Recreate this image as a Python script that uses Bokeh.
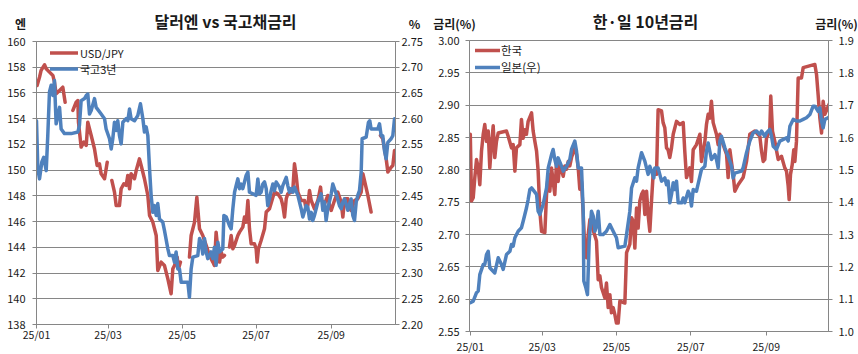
import numpy as np
from bokeh.plotting import figure
from bokeh.models import (Range1d, LinearAxis, FixedTicker, NumeralTickFormatter,
                          Label, Legend, LegendItem)
from bokeh.layouts import row, column
from bokeh.embed import file_html
from bokeh.resources import INLINE

NaN = float("nan")

# ---------------- data (x = days since 2025-01-01) ----------------
usd_jpy = [
    (0.5, 156.58), (2.5, 157.23), (3.8, 157.75), (6.6, 158.19), (8.0, 157.88), (10.7, 157.62),
    (13.5, 157.36), (14.8, 156.84), (16.2, 155.93), (19.0, 156.19), (21.7, 156.45), (23.6, 155.28),
    (26.0, NaN),
    (30.0, 154.64), (32.7, 155.28), (34.1, 155.41), (34.6, 153.73), (36.8, 151.79), (39.0, 152.18),
    (41.0, 151.92), (42.3, 153.73), (45.1, 152.69), (47.8, 151.66), (50.0, 150.36), (51.9, 150.49),
    (53.3, 149.71), (56.1, 149.33), (58.3, 150.62),
    (60.0, NaN),
    (62.1, 149.20), (64.3, 148.29), (65.7, 147.25), (68.4, 147.25), (69.8, 148.55), (72.0, 148.94),
    (73.9, 148.81), (75.3, 149.59), (76.7, 148.55), (78.0, 149.72), (80.8, 149.33), (82.2, 149.97),
    (84.9, 150.88), (86.3, 150.36), (89.0, 149.33), (91.8, 148.03), (93.2, 146.48), (95.9, 145.96),
    (97.3, 145.44), (98.7, 144.92), (100.0, 142.20), (102.8, 142.85), (105.5, 142.59), (108.3, 141.55),
    (111.0, 140.39), (112.4, 142.33), (113.8, 142.59), (116.0, 143.24), (117.1, 142.33), (118.7, 142.85),
    (122.0, NaN),
    (126.1, 143.24), (127.5, 144.92), (130.3, 145.96), (132.2, 147.90), (134.4, 145.44), (137.1, 144.92),
    (139.9, 144.15), (142.6, 143.37), (145.4, 142.85), (146.7, 142.59), (148.1, 145.18), (149.5, 143.80),
    (150.9, 142.85), (152.3, 143.63), (153.6, 143.24), (155.0, 143.37),
    (157.0, NaN),
    (159.1, 144.02), (160.5, 144.92), (161.9, 143.89), (163.3, 144.15), (166.0, 144.92), (167.4, 145.18),
    (170.1, 145.57), (171.5, 146.35), (172.9, 145.96), (174.3, 147.64), (175.6, 145.44), (177.0, 144.28),
    (179.7, 144.28), (181.1, 143.89), (181.9, 142.85), (183.0, 143.89), (185.2, 144.53), (188.0, 145.44),
    (189.4, 146.74), (192.1, 147.00), (194.9, 147.90), (196.2, 148.29), (199.0, 148.16), (201.7, 147.77),
    (203.1, 147.25), (204.5, 146.35), (205.9, 147.77), (207.2, 148.16), (210.0, 148.29), (211.4, 148.55),
    (212.7, 150.49), (214.1, 149.59), (215.5, 148.29), (218.2, 147.64), (221.0, 147.64), (222.3, 146.99),
    (223.7, 147.25), (225.1, 148.42), (226.5, 147.64), (229.2, 146.99), (232.0, 147.64), (234.2, 148.68),
    (235.3, 147.64), (237.5, 147.38), (240.2, 148.03), (241.6, 147.25), (243.0, 146.87), (245.7, 147.64),
    (248.4, 148.29), (251.2, 147.51), (252.6, 146.35), (254.0, 147.77), (256.7, 147.77), (258.1, 146.99),
    (259.4, 146.87), (262.2, 147.64), (264.9, 147.77), (267.7, 148.29), (269.1, 149.72), (270.4, 149.20),
    (273.2, 148.03), (275.9, 146.74),
    (280.0, NaN),
    (283.6, 152.69), (285.5, 152.44), (286.9, 151.66), (288.3, 150.88), (289.7, 149.85), (292.4, 150.23),
    (293.8, 150.36), (295.2, 151.53),
]

ktb3y = [
    (0.0, 2.596), (1.1, 2.503), (2.5, 2.483), (4.4, 2.516), (6.0, 2.525), (8.0, 2.499), (9.3, 2.567),
    (10.7, 2.652), (12.1, 2.665), (13.5, 2.645), (14.8, 2.674), (16.2, 2.590), (17.6, 2.606), (19.0, 2.622),
    (20.3, 2.580), (23.1, 2.571), (28.6, 2.571), (34.1, 2.574), (35.4, 2.587), (36.8, 2.635), (39.6, 2.639),
    (41.0, 2.645), (42.3, 2.648), (43.7, 2.609), (45.1, 2.616), (47.8, 2.639), (49.2, 2.622), (53.3, 2.609),
    (56.1, 2.600), (57.4, 2.580), (60.2, 2.561), (61.6, 2.541), (62.9, 2.561), (64.3, 2.593), (65.7, 2.577),
    (67.0, 2.596), (68.4, 2.567), (69.8, 2.551), (71.2, 2.593), (73.9, 2.600), (75.3, 2.596), (76.7, 2.619),
    (78.0, 2.600), (80.8, 2.596), (83.5, 2.606), (85.7, 2.629), (87.7, 2.600), (89.0, 2.574), (90.4, 2.584),
    (91.8, 2.567), (93.2, 2.503), (94.5, 2.451), (95.9, 2.418), (97.3, 2.431), (98.7, 2.412), (100.0, 2.435),
    (101.4, 2.405), (104.1, 2.399), (105.5, 2.383), (108.3, 2.347), (109.6, 2.334), (112.4, 2.334),
    (113.8, 2.321), (115.1, 2.341), (116.5, 2.308), (117.9, 2.308), (119.3, 2.282), (124.8, 2.282),
    (126.1, 2.253), (127.5, 2.308), (128.9, 2.331), (133.0, 2.334), (134.4, 2.367), (135.8, 2.360),
    (137.1, 2.337), (138.5, 2.367), (139.9, 2.341), (141.2, 2.328), (144.0, 2.341), (145.4, 2.328),
    (146.7, 2.350), (148.1, 2.315), (149.5, 2.360), (150.9, 2.341), (153.6, 2.347), (154.5, 2.412),
    (156.4, 2.409), (159.1, 2.392), (160.5, 2.386), (161.9, 2.425), (163.3, 2.457), (164.6, 2.470),
    (166.0, 2.483), (167.4, 2.464), (168.8, 2.473), (170.1, 2.464), (171.5, 2.477), (172.9, 2.490),
    (174.3, 2.496), (175.6, 2.457), (181.1, 2.451), (182.5, 2.483), (183.9, 2.454), (185.2, 2.457),
    (186.6, 2.473), (188.0, 2.477), (189.4, 2.464), (190.7, 2.431), (192.1, 2.444), (193.5, 2.460),
    (194.9, 2.473), (196.2, 2.460), (197.6, 2.477), (200.4, 2.467), (201.7, 2.457), (203.1, 2.470),
    (205.9, 2.486), (207.2, 2.470), (208.6, 2.457), (210.0, 2.464), (211.4, 2.457), (212.7, 2.467),
    (215.5, 2.451), (218.2, 2.425), (219.6, 2.409), (222.3, 2.431), (223.7, 2.428), (225.1, 2.405),
    (226.5, 2.418), (227.8, 2.402), (229.2, 2.412), (232.0, 2.438), (234.7, 2.454), (236.1, 2.422),
    (237.5, 2.438), (238.8, 2.402), (240.2, 2.425), (243.0, 2.454), (244.3, 2.473), (247.1, 2.454),
    (249.8, 2.431), (251.2, 2.425), (252.6, 2.438), (254.0, 2.444), (256.7, 2.422), (258.1, 2.435),
    (259.4, 2.444), (260.8, 2.412), (262.2, 2.402), (263.6, 2.438), (264.9, 2.451), (266.3, 2.460),
    (267.7, 2.496), (268.5, 2.561), (271.8, 2.564), (273.7, 2.593), (274.8, 2.596), (275.9, 2.580),
    (281.4, 2.580), (282.8, 2.590), (284.2, 2.567), (285.5, 2.567), (286.9, 2.538), (288.3, 2.522),
    (289.7, 2.554), (292.4, 2.561), (293.8, 2.567), (295.2, 2.600),
]

korea10y = [
    (0.0, 2.855), (1.0, 2.752), (2.4, 2.757), (3.7, 2.788), (5.1, 2.816), (6.5, 2.803), (7.8, 2.777),
    (9.2, 2.829), (10.6, 2.855), (11.9, 2.870), (13.3, 2.844), (14.7, 2.860), (16.0, 2.803), (17.4, 2.839),
    (18.8, 2.868), (20.1, 2.819), (21.5, 2.844), (22.9, 2.857), (29.7, 2.860), (31.1, 2.852), (33.8, 2.834),
    (35.2, 2.839), (36.6, 2.798), (37.9, 2.834), (40.7, 2.839), (42.0, 2.878), (43.4, 2.849), (44.8, 2.862),
    (46.1, 2.855), (47.5, 2.875), (50.3, 2.888), (51.6, 2.860), (53.0, 2.844), (54.4, 2.829), (55.7, 2.798),
    (57.1, 2.736), (58.5, 2.705), (61.2, 2.703), (62.6, 2.762), (64.0, 2.793), (65.3, 2.767), (66.7, 2.803),
    (68.0, 2.782), (69.4, 2.762), (70.8, 2.813), (72.1, 2.782), (73.5, 2.808), (76.3, 2.790), (77.6, 2.806),
    (79.0, 2.801), (80.4, 2.813), (81.7, 2.806), (83.1, 2.819), (85.8, 2.834), (87.2, 2.824), (88.6, 2.803),
    (89.9, 2.770), (91.3, 2.782), (92.7, 2.731), (94.0, 2.679), (95.4, 2.664), (96.8, 2.700), (98.2, 2.723),
    (103.6, 2.690), (105.0, 2.630), (106.4, 2.636), (107.7, 2.618), (110.5, 2.602), (111.8, 2.625),
    (113.2, 2.587), (114.6, 2.607), (115.9, 2.579), (117.3, 2.587), (118.7, 2.576), (120.0, 2.563),
    (121.4, 2.563), (122.8, 2.597), (126.9, 2.594), (128.3, 2.672), (131.0, 2.685), (132.4, 2.726),
    (133.7, 2.721), (135.1, 2.679), (136.5, 2.741), (137.8, 2.710), (139.2, 2.752), (140.6, 2.762),
    (142.0, 2.767), (143.3, 2.731), (144.7, 2.767), (146.0, 2.730), (147.4, 2.705), (148.8, 2.752),
    (150.1, 2.793), (152.9, 2.793), (154.2, 2.893), (157.0, 2.891), (158.3, 2.873), (159.7, 2.865),
    (161.1, 2.834), (162.4, 2.831), (163.8, 2.819), (165.2, 2.834), (166.6, 2.855), (169.3, 2.875),
    (172.0, 2.870), (174.8, 2.873), (176.1, 2.829), (177.5, 2.788), (180.2, 2.803), (181.6, 2.782),
    (183.0, 2.831), (185.7, 2.839), (188.5, 2.855), (189.8, 2.813), (192.6, 2.844), (193.9, 2.870),
    (195.3, 2.886), (196.7, 2.880), (198.0, 2.906), (199.4, 2.873), (202.1, 2.855), (203.5, 2.839),
    (204.9, 2.855), (207.6, 2.839), (210.4, 2.824), (211.7, 2.788), (213.1, 2.831), (215.8, 2.793),
    (217.2, 2.767), (219.9, 2.777), (224.0, 2.788), (226.8, 2.813), (229.5, 2.855), (233.6, 2.860),
    (237.7, 2.852), (239.1, 2.829), (240.5, 2.813), (241.8, 2.816), (243.2, 2.849), (245.9, 2.862),
    (246.7, 2.914), (248.1, 2.860), (250.0, 2.844), (252.8, 2.816), (255.5, 2.821), (258.2, 2.803),
    (259.6, 2.798), (261.0, 2.775), (261.8, 2.754), (262.9, 2.793), (264.3, 2.808), (265.6, 2.831),
    (266.5, 2.813), (267.8, 2.844), (269.2, 2.942), (271.9, 2.942), (273.3, 2.958), (282.9, 2.963),
    (284.3, 2.947), (285.6, 2.916), (287.0, 2.880), (288.4, 2.857), (289.7, 2.906), (291.1, 2.886),
    (293.8, 2.898), (295.2, 2.904),
]

japan10y = [
    (0.0, 1.089), (2.4, 1.094), (5.1, 1.120), (6.5, 1.125), (7.8, 1.176), (10.6, 1.207), (11.9, 1.207),
    (13.3, 1.238), (14.7, 1.248), (16.0, 1.197), (20.1, 1.181), (22.9, 1.228), (25.6, 1.207), (27.0, 1.192),
    (29.7, 1.238), (32.5, 1.248), (33.8, 1.269), (35.2, 1.264), (36.6, 1.290), (39.3, 1.310), (42.0, 1.321),
    (43.4, 1.341), (46.1, 1.382), (47.5, 1.408), (48.9, 1.439), (50.3, 1.444), (54.4, 1.424), (55.7, 1.372),
    (57.1, 1.362), (59.8, 1.393), (62.6, 1.444), (64.0, 1.506), (66.7, 1.547), (68.0, 1.563), (69.4, 1.532),
    (70.8, 1.511), (72.1, 1.537), (74.9, 1.511), (76.3, 1.496), (79.0, 1.511), (81.7, 1.532), (83.1, 1.563),
    (85.8, 1.589), (87.2, 1.558), (88.6, 1.506), (91.3, 1.506), (92.7, 1.372), (93.2, 1.156), (94.9, 1.135),
    (96.2, 1.114), (97.6, 1.279), (99.5, 1.372), (100.9, 1.357), (102.3, 1.310), (103.6, 1.326),
    (105.0, 1.372), (106.4, 1.300), (109.1, 1.300), (111.8, 1.310), (114.6, 1.331), (117.3, 1.310),
    (120.0, 1.290), (121.4, 1.259), (126.9, 1.264), (128.3, 1.300), (131.0, 1.372), (132.4, 1.444),
    (135.1, 1.475), (136.5, 1.465), (137.8, 1.506), (140.6, 1.553), (143.3, 1.527), (146.0, 1.486),
    (147.4, 1.511), (148.8, 1.496), (150.7, 1.475), (151.5, 1.506), (154.2, 1.506), (157.0, 1.465),
    (159.7, 1.475), (161.1, 1.454), (162.4, 1.465), (163.8, 1.398), (165.2, 1.424), (166.6, 1.460),
    (167.9, 1.439), (169.3, 1.465), (170.7, 1.398), (173.4, 1.398), (174.8, 1.413), (176.1, 1.398),
    (178.9, 1.434), (180.2, 1.424), (181.6, 1.388), (183.0, 1.439), (185.7, 1.434), (188.5, 1.480),
    (189.8, 1.501), (192.6, 1.511), (193.9, 1.558), (195.3, 1.583), (198.0, 1.532), (200.8, 1.547),
    (202.1, 1.532), (203.5, 1.506), (204.9, 1.589), (206.2, 1.604), (209.0, 1.568), (211.7, 1.542),
    (214.5, 1.511), (215.8, 1.475), (217.2, 1.490), (222.7, 1.496), (224.0, 1.506), (226.8, 1.553),
    (229.5, 1.589), (232.2, 1.614), (235.0, 1.620), (237.7, 1.609), (239.1, 1.620), (241.8, 1.604),
    (243.2, 1.614), (245.9, 1.625), (247.3, 1.604), (248.7, 1.573), (251.4, 1.563), (254.1, 1.589),
    (259.6, 1.599), (261.0, 1.589), (262.4, 1.635), (265.1, 1.656), (267.8, 1.651), (270.6, 1.651),
    (273.3, 1.656), (276.0, 1.661), (278.8, 1.671), (281.5, 1.697), (282.9, 1.697), (285.6, 1.681),
    (287.0, 1.692), (288.4, 1.651), (289.7, 1.630), (291.1, 1.656), (293.8, 1.661), (295.2, 1.666),
]

month_ticks = [0, 59, 120, 181, 243]
month_labels = ["25/01", "25/03", "25/05", "25/07", "25/09"]
yen_ticks = [138, 140, 142, 144, 146, 148, 150, 152, 154, 156, 158, 160]
ktb_ticks = [2.20, 2.25, 2.30, 2.35, 2.40, 2.45, 2.50, 2.55, 2.60, 2.65, 2.70, 2.75]
kr_ticks = [2.55, 2.60, 2.65, 2.70, 2.75, 2.80, 2.85, 2.90, 2.95, 3.00]
jp_ticks = [1.0, 1.1, 1.2, 1.3, 1.4, 1.5, 1.6, 1.7, 1.8, 1.9]

# ---------------- styling ----------------
FONT = "Noto Sans CJK KR"
RED = "#C0504D"
BLUE = "#4F81BD"
GRID = "#868686"
TXT = "#1a1a1a"
LW = 3.5
STRIP_H = 32


def xy(pts):
    a = np.array(pts, dtype=float)
    return a[:, 0], a[:, 1]


def style_axis(ax, standoff, size="11px"):
    ax.axis_line_color = GRID
    ax.major_tick_line_color = GRID
    ax.major_tick_out = 4
    ax.major_tick_in = 0
    ax.minor_tick_line_color = None
    ax.major_label_text_font = FONT
    ax.major_label_text_font_size = size
    ax.major_label_text_color = TXT
    ax.major_label_standoff = standoff


def make_fig(xr, yr, left, right, top, bottom, fh):
    p = figure(frame_width=359, frame_height=fh, x_range=xr, y_range=yr,
               output_backend="svg", toolbar_location=None,
               min_border_left=left, min_border_right=right,
               min_border_top=top, min_border_bottom=bottom)
    p.frame_align = False
    p.outline_line_color = GRID
    p.outline_line_width = 1
    p.background_fill_color = "white"
    p.border_fill_color = "white"
    p.xgrid.visible = False
    p.ygrid.grid_line_color = GRID
    p.ygrid.grid_line_width = 1
    p.xaxis.ticker = FixedTicker(ticks=month_ticks)
    p.xaxis.major_label_overrides = {t: l for t, l in zip(month_ticks, month_labels)}
    return p


def make_strip(texts):
    s = figure(width=429, height=STRIP_H, x_range=Range1d(0, 429), y_range=Range1d(STRIP_H, 0),
               x_axis_type=None, y_axis_type=None, output_backend="svg", toolbar_location=None,
               min_border=0, min_border_left=0, min_border_right=0,
               min_border_top=0, min_border_bottom=0)
    s.frame_align = False
    s.outline_line_color = None
    s.background_fill_color = "white"
    s.border_fill_color = "white"
    for (x, y, text, size, bold) in texts:
        s.add_layout(Label(x=x, y=y, text=text, text_font=FONT, text_font_size=size,
                           text_font_style="bold" if bold else "normal",
                           text_color=TXT, text_align="center", text_baseline="middle"))
    return s


def one_item_legend(label, renderer, loc, glyph_w, font_size, standoff):
    return Legend(items=[LegendItem(label=label, renderers=[renderer])],
                  location=loc, orientation="vertical", padding=0, margin=0, spacing=0,
                  glyph_width=glyph_w, glyph_height=12, label_height=12, label_standoff=standoff,
                  label_text_font=FONT, label_text_font_size=font_size, label_text_color=TXT,
                  background_fill_alpha=0, border_line_alpha=0)


# ---------------- left chart ----------------
p1 = make_fig(Range1d(0, 296), Range1d(138, 160), 36, 34, 41 - STRIP_H, 30, 283)
p1.extra_y_ranges = {"pct": Range1d(2.20, 2.75)}
p1.yaxis.ticker = FixedTicker(ticks=yen_ticks)
style_axis(p1.yaxis[0], 7)
style_axis(p1.xaxis[0], -2, "10.5px")
ax_r1 = LinearAxis(y_range_name="pct", ticker=FixedTicker(ticks=ktb_ticks),
                   formatter=NumeralTickFormatter(format="0.00"))
style_axis(ax_r1, 2)
p1.add_layout(ax_r1, "right")

ux, uy = xy(usd_jpy)
kx, ky = xy(ktb3y)
r_usd = p1.line(ux, uy, line_color=RED, line_width=LW, line_join="round", line_cap="round")
r_ktb = p1.line(kx, ky, line_color=BLUE, line_width=LW, line_join="round", line_cap="round",
                y_range_name="pct")

leg1 = Legend(items=[LegendItem(label="USD/JPY", renderers=[r_usd]),
                     LegendItem(label="국고3년", renderers=[r_ktb])],
              location=(14, 247.5), orientation="vertical", padding=0, margin=0, spacing=0,
              glyph_width=28, glyph_height=15, label_height=15, label_standoff=2,
              label_text_font=FONT, label_text_font_size="11px", label_text_color=TXT,
              background_fill_alpha=0, border_line_alpha=0)
p1.add_layout(leg1)

s1 = make_strip([(225, 20.5, "달러엔 vs 국고채금리", "16px", True),
                 (20, 22.5, "엔", "12px", True),
                 (414, 23, "%", "12px", True)])

# ---------------- right chart ----------------
p2 = make_fig(Range1d(-0.66, 294.1), Range1d(2.55, 3.00), 40, 30, 40 - STRIP_H, 23, 291)
p2.extra_y_ranges = {"jp": Range1d(1.0, 1.9)}
p2.yaxis.ticker = FixedTicker(ticks=kr_ticks)
p2.yaxis.formatter = NumeralTickFormatter(format="0.00")
style_axis(p2.yaxis[0], 6)
style_axis(p2.xaxis[0], 3, "10.5px")
ax_r2 = LinearAxis(y_range_name="jp", ticker=FixedTicker(ticks=jp_ticks),
                   formatter=NumeralTickFormatter(format="0.0"))
style_axis(ax_r2, 6)
p2.add_layout(ax_r2, "right")

krx, kry = xy(korea10y)
jpx, jpy = xy(japan10y)
r_kr = p2.line(krx, kry, line_color=RED, line_width=LW, line_join="round", line_cap="round")
r_jp = p2.line(jpx, jpy, line_color=BLUE, line_width=LW, line_join="round", line_cap="round",
               y_range_name="jp")

p2.add_layout(one_item_legend("한국", r_kr, (6, 273.5), 25, "11.5px", 1))
p2.add_layout(one_item_legend("일본(우)", r_jp, (6, 256.5), 25, "11.5px", 1))

s2 = make_strip([(216, 20.5, "한·일 10년금리", "16px", True),
                 (25, 23, "금리(%)", "12px", True),
                 (407, 23, "금리(%)", "12px", True)])

layout = row(column(s1, p1), column(s2, p2))
open("out.html", "w").write(file_html(layout, INLINE))
